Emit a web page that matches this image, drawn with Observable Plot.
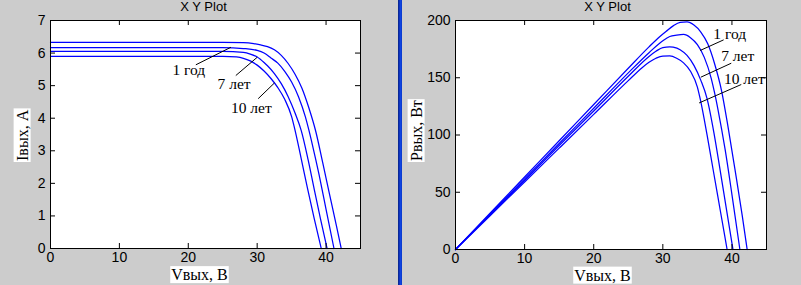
<!DOCTYPE html>
<html><head><meta charset="utf-8">
<script src="https://cdn.jsdelivr.net/npm/d3@7"></script>
<script src="https://cdn.jsdelivr.net/npm/@observablehq/plot@0.6"></script>
<style>
html,body{margin:0;padding:0;background:#cccccc;}
#wrap{display:flex;width:801px;height:285px;overflow:hidden;}
#left{width:398px;height:285px;}
#right{width:399px;height:285px;}
#sep{width:4px;height:285px;background:linear-gradient(to right,#0a2896 0,#0a2896 25%,#0c34c0 25%,#0c34c0 50%,#1044e0 50%,#1044e0 75%,#0c3cd0 75%);}
svg{display:block;}
</style></head><body>
<div id="wrap"><div id="left"></div><div id="sep"></div><div id="right"></div></div>
<script>
// ---- data ----
const curves = ["новый", "1 год", "7 лет", "10 лет"];

const vA = [0, 5, 10, 15, 20, 25, 28, 29.5, 30.5, 31.5, 32.5, 33.5, 34.5, 35.5, 36.5, 37.5, 38.5, 39.5, 40.5, 41.5, 42.2];
const iA = [6.33, 6.33, 6.33, 6.33, 6.33, 6.33, 6.32, 6.29, 6.25, 6.20, 6.10, 5.93, 5.68, 5.35, 4.92, 4.32, 3.60, 2.65, 1.67, 0.70, 0];
const pA = [0, 31.7, 63.3, 95.0, 126.6, 158.3, 177.0, 185.6, 190.6, 195.3, 198.3, 198.7, 196.0, 189.9, 179.6, 162.0, 138.6, 104.7, 67.6, 29.1, 0];

const vB = [0, 5, 10, 15, 20, 25, 28, 30, 31, 32, 33, 34, 35, 36, 37, 37.5, 38, 39, 40, 41.15];
const iB = [6.17, 6.17, 6.17, 6.17, 6.17, 6.17, 6.14, 6.08, 6.00, 5.85, 5.69, 5.44, 5.11, 4.66, 4.04, 3.64, 3.20, 2.25, 1.20, 0];
const pB = [0, 30.9, 61.7, 92.6, 123.4, 154.3, 171.9, 182.4, 186.0, 187.2, 187.8, 185.0, 178.9, 167.8, 149.5, 136.5, 121.6, 87.8, 48.0, 0];

const vC = [0, 5, 10, 15, 20, 25, 28, 29, 30, 31, 31.5, 32.5, 33.5, 34.5, 35.5, 36.4, 37.4, 38.3, 39.2, 40.15];
const iC = [6.05, 6.05, 6.05, 6.05, 6.05, 6.05, 6.02, 5.97, 5.88, 5.71, 5.61, 5.37, 5.06, 4.66, 4.16, 3.62, 2.72, 1.80, 0.90, 0];
const pC = [0, 30.3, 60.5, 90.8, 121.0, 151.3, 168.6, 173.1, 176.4, 177.0, 176.7, 174.5, 169.5, 160.8, 147.7, 131.8, 101.7, 68.9, 35.3, 0];

const vD = [0, 5, 10, 15, 20, 25, 27, 28, 29, 30, 31, 32, 33, 34, 35, 35.4, 36.4, 37.3, 38.3, 39.3];
const iD = [5.90, 5.90, 5.90, 5.90, 5.90, 5.90, 5.88, 5.84, 5.76, 5.63, 5.45, 5.22, 4.94, 4.58, 4.05, 3.72, 2.75, 1.85, 0.90, 0];
const pD = [0, 29.5, 59.0, 88.5, 118.0, 147.5, 158.8, 163.5, 167.0, 168.9, 169.0, 167.0, 163.0, 155.7, 141.8, 131.7, 100.1, 69.0, 34.5, 0];

const xTicks = [0, 10, 20, 30, 40];
const iTicks = [0, 1, 2, 3, 4, 5, 6, 7];
const pTicks = [0, 50, 100, 150, 200];

const titleText = "X Y Plot";
const xLabelText = "Vвых, В";
const iLabelText = "Iвых, А";
const pLabelText = "Pвых, Вт";

const annText = ["1 год", "7 лет", "10 лет"];
// left panel (V, I): label baseline start, leader start and end
const ivLabelV = [17.7, 24.25, 26.2];
const ivLabelI = [5.33, 4.90, 4.15];
const ivLeadV1 = [21.1, 26.9, 30.15];
const ivLeadI1 = [5.64, 5.31, 4.60];
const ivLeadV2 = [26.2, 30.0, 32.5];
const ivLeadI2 = [6.18, 5.87, 5.08];
// right panel (V, P)
const pvLabelV = [37.3, 38.45, 38.85];
const pvLabelP = [183.5, 165, 144.5];
const pvLeadV1 = [35.4, 35.5, 35.25];
const pvLeadP1 = [173.8, 150.5, 128.0];
const pvLeadV2 = [38.8, 39.9, 41.35];
const pvLeadP2 = [183.1, 162.7, 144.1];

// ---- build tables ----
const V = [vA, vB, vC, vD];
function rows(Y) { return curves.flatMap((c, k) => V[k].map((v, j) => ({c, v, y: Y[k][j]}))); }
const ivData = rows([iA, iB, iC, iD]);
const pvData = rows([pA, pB, pC, pD]);
const ivLabels = annText.map((t, k) => ({t, x: ivLabelV[k], y: ivLabelI[k]}));
const ivLeaders = annText.map((t, k) => ({x1: ivLeadV1[k], y1: ivLeadI1[k], x2: ivLeadV2[k], y2: ivLeadI2[k]}));
const pvLabels = annText.map((t, k) => ({t, x: pvLabelV[k], y: pvLabelP[k]}));
const pvLeaders = annText.map((t, k) => ({x1: pvLeadV1[k], y1: pvLeadP1[k], x2: pvLeadV2[k], y2: pvLeadP2[k]}));

const serif = "'Liberation Serif','Times New Roman',serif";
const sans = "'Liberation Sans',Arial,sans-serif";

function panel(o) {
  const H = 285;
  const iw = o.width - o.ml - o.mr, ih = H - o.mt - o.mb;
  const T = 5;
  return Plot.plot({
    width: o.width, height: H,
    marginLeft: o.ml, marginRight: o.mr, marginTop: o.mt, marginBottom: o.mb,
    style: {background: "transparent", fontFamily: sans, fontSize: "14px", color: "#000", overflow: "visible"},
    x: {domain: [0, 45], label: null},
    y: {domain: o.yDomain, label: null},
    marks: [
      Plot.frame({fill: "white"}),
      Plot.line(o.data, {x: "v", y: "y", z: "c", stroke: "#0000ff", strokeWidth: 1.25, curve: "monotone-x"}),
      Plot.link(o.leaders, {x1: "x1", y1: "y1", x2: "x2", y2: "y2", stroke: "black", strokeWidth: 1}),
      Plot.text(o.labels, {x: "x", y: "y", text: "t", textAnchor: "start", lineAnchor: "bottom", fontFamily: serif, fontSize: 15.5, fill: "black"}),
      Plot.frame({stroke: "black"}),
      Plot.tickX(xTicks, {x: d => d, insetTop: ih - T, stroke: "black"}),
      Plot.tickX(xTicks, {x: d => d, insetBottom: ih - T, stroke: "black"}),
      Plot.tickY(o.yTicks, {y: d => d, insetRight: iw - T, stroke: "black"}),
      Plot.tickY(o.yTicks, {y: d => d, insetLeft: iw - T, stroke: "black"}),
      Plot.axisX(xTicks, {tickSize: 0, tickPadding: 4, label: null, fontSize: 14}),
      Plot.axisY(o.yTicks, {tickSize: 0, tickPadding: 5, label: null, fontSize: 14}),
      Plot.text([titleText], {text: d => d, frameAnchor: "top", dx: o.titleDx, dy: -14, lineAnchor: "middle", fontFamily: sans, fontSize: 13, fill: "black"}),
      Plot.text([xLabelText], {text: d => d, frameAnchor: "bottom", dx: o.xLabelDx, dy: o.xLabelDy, lineAnchor: "middle", fontFamily: serif, fontSize: 16, fill: "black"}),
      Plot.text([o.yLabel], {text: d => d, frameAnchor: "left", dx: o.yLabelDx, dy: o.yLabelDy, rotate: -90, textAnchor: "start", lineAnchor: "middle", fontFamily: serif, fontSize: 16, fill: "black"})
    ]
  });
}

const left = panel({width: 398, ml: 50, mr: 38, mt: 20, mb: 37, yDomain: [0, 7], yTicks: iTicks,
  data: ivData, labels: ivLabels, leaders: ivLeaders, yLabel: iLabelText,
  titleDx: -2, xLabelDx: -6, xLabelDy: 26.5, yLabelDx: -28, yLabelDy: 26.5});
const right = panel({width: 399, ml: 53, mr: 35, mt: 20, mb: 36, yDomain: [0, 200], yTicks: pTicks,
  data: pvData, labels: pvLabels, leaders: pvLeaders, yLabel: pLabelText,
  titleDx: -3.5, xLabelDx: -8.5, xLabelDy: 26, yLabelDx: -39, yLabelDy: 26});

document.getElementById("left").appendChild(left);
document.getElementById("right").appendChild(right);

// white boxes behind the axis titles
for (const svg of [left, right]) {
  svg.querySelectorAll("text").forEach(t => {
    const s = t.textContent;
    if (s === xLabelText || s === iLabelText || s === pLabelText) {
      const b = t.getBBox();
      const r = document.createElementNS("http://www.w3.org/2000/svg", "rect");
      r.setAttribute("x", b.x - 1);
      r.setAttribute("y", b.y);
      r.setAttribute("width", b.width + 2);
      r.setAttribute("height", b.height);
      r.setAttribute("fill", "white");
      if (t.getAttribute("transform")) r.setAttribute("transform", t.getAttribute("transform"));
      t.parentNode.insertBefore(r, t);
    }
  });
}
</script></body></html>
